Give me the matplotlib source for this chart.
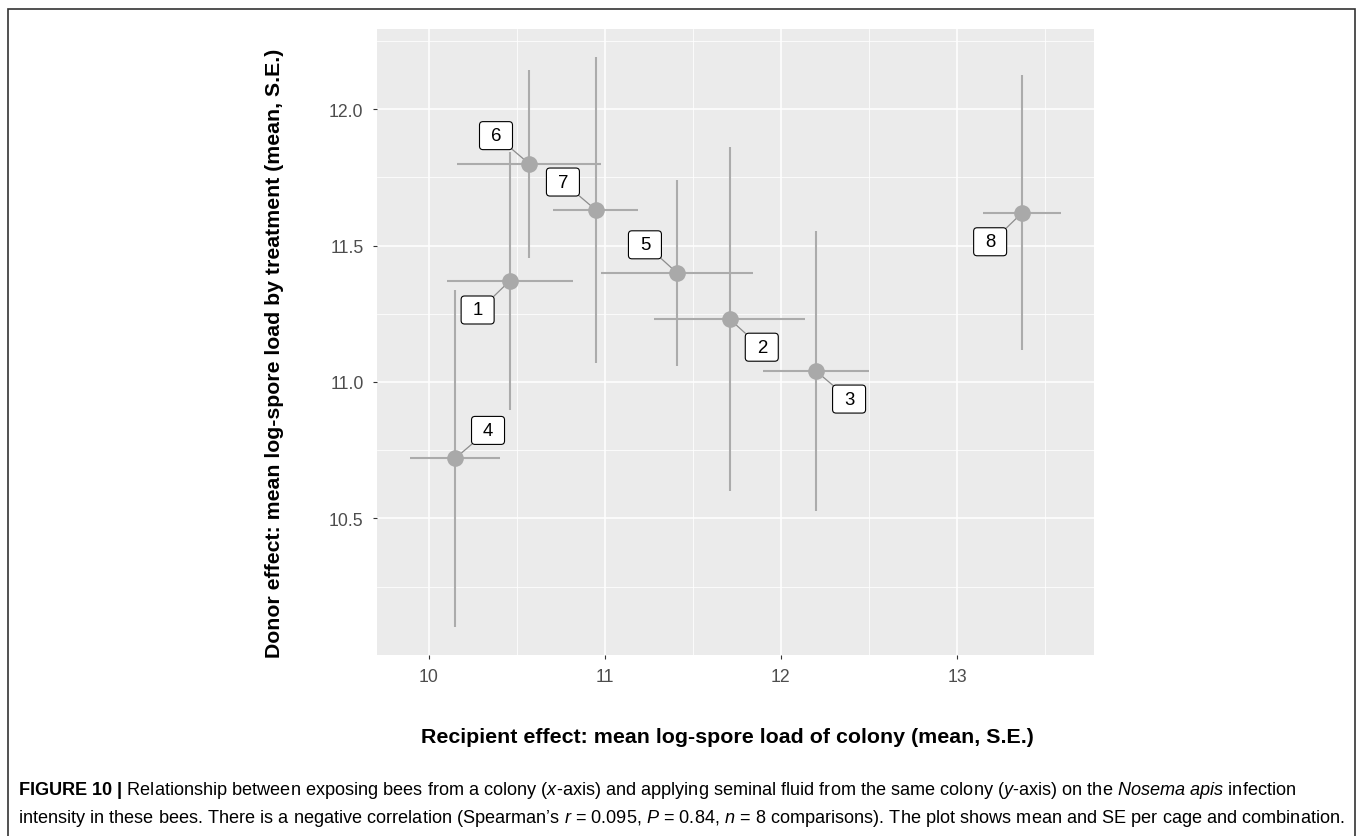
import matplotlib
matplotlib.use("Agg")
import matplotlib.pyplot as plt
from matplotlib import transforms
from matplotlib.patches import FancyBboxPatch, Rectangle
from matplotlib.lines import Line2D

plt.rcParams['font.family'] = ['Liberation Sans', 'DejaVu Sans']
plt.rcParams['mathtext.fontset'] = 'custom'
plt.rcParams['mathtext.rm'] = 'Liberation Sans'
plt.rcParams['mathtext.it'] = 'Liberation Sans:italic'
plt.rcParams['mathtext.bf'] = 'Liberation Sans:bold'

# colony / cage labels and their means with SE
labels = ['1', '2', '3', '4', '5', '6', '7', '8']
x_mean = [10.46, 11.71, 12.20, 10.15, 11.41, 10.57, 10.95, 13.37]
x_se = [0.357, 0.429, 0.303, 0.258, 0.433, 0.408, 0.241, 0.223]
y_mean = [11.37, 11.23, 11.04, 10.72, 11.40, 11.80, 11.63, 11.62]
y_se = [0.471, 0.631, 0.513, 0.616, 0.340, 0.344, 0.559, 0.503]

# where each label box sits relative to its point (pixels, right/up positive)
label_offsets = [(-32, -29), (32, -28), (33, -28), (33, 28),
                 (-32, 28), (-33, 28), (-33, 28), (-32, -29)]

W, H = 1360, 837
fig = plt.figure(figsize=(W / 100, H / 100), dpi=100)
ax = fig.add_axes([377 / W, 1 - 656 / H, (1094 - 377) / W, (656 - 30) / H])

# ggplot-like 5% expansion of the data range
def expanded(mean, se):
    lo = min(m - s for m, s in zip(mean, se))
    hi = max(m + s for m, s in zip(mean, se))
    pad = 0.05 * (hi - lo)
    return lo - pad, hi + pad

ax.set_xlim(*expanded(x_mean, x_se))
ax.set_ylim(*expanded(y_mean, y_se))

ax.set_facecolor('#EBEBEB')
for s in ax.spines.values():
    s.set_visible(False)
ax.set_xticks([10, 11, 12, 13])
ax.set_xticks([10.5, 11.5, 12.5, 13.5], minor=True)
ax.set_yticks([10.5, 11.0, 11.5, 12.0])
ax.set_yticklabels(['10.5', '11.0', '11.5', '12.0'])
ax.set_yticks([10.25, 10.75, 11.25, 11.75, 12.25], minor=True)
ax.grid(which='major', color='white', lw=1.1)
ax.grid(which='minor', color='white', lw=0.55)
ax.set_axisbelow(True)
ax.tick_params(which='major', length=3.2, width=0.8, color='#333333',
               labelcolor='#4D4D4D', labelsize=12.7, pad=6.5)
ax.tick_params(which='minor', length=0)

ax.errorbar(x_mean, y_mean, xerr=x_se, yerr=y_se, fmt='none',
            ecolor='#ABABAB', elinewidth=1.5, capsize=0, zorder=2)
ax.plot(x_mean, y_mean, 'o', color='#A9A9A9', ms=12, mec='none', zorder=3)

# label boxes with connector segments
bw, bh = 0.33, 0.28
for lab, xm, ym, (dx, dy) in zip(labels, x_mean, y_mean, label_offsets):
    trans = fig.dpi_scale_trans + transforms.ScaledTranslation(xm, ym, ax.transData)
    cx, cy = dx / 100, dy / 100
    sx = 1 if dx > 0 else -1
    sy = 1 if dy > 0 else -1
    corner = (cx - sx * bw / 2, cy - sy * bh / 2)
    ax.add_line(Line2D([0, corner[0]], [0, corner[1]], color='#8C8C8C',
                       lw=0.9, transform=trans, zorder=2.5))
    ax.add_patch(FancyBboxPatch((cx - bw / 2, cy - bh / 2), bw, bh,
                                boxstyle='round,pad=0,rounding_size=0.035',
                                fc='white', ec='black', lw=0.8,
                                transform=trans, zorder=4, clip_on=False))
    ax.text(cx, cy, lab, transform=trans, ha='center', va='center',
            fontsize=13.4, color='black', zorder=5)

fig.text(275 / W, 1 - 353 / H,
         'Donor effect: mean log-spore load by treatment (mean, S.E.)',
         rotation=90, ha='center', va='center', fontsize=15.3, weight='bold')
fig.text(727 / W, 1 - 738 / H,
         'Recipient effect: mean log-spore load of colony (mean, S.E.)',
         ha='center', va='center', fontsize=15.4, weight='bold')

cap1 = (r'$\mathbf{FIGURE\ 10\ |}$ Relationship between exposing bees from a colony '
        r'($\mathit{x}$-axis) and applying seminal fluid from the same colony '
        r'($\mathit{y}$-axis) on the $\mathit{Nosema}$ $\mathit{apis}$ infection')
cap2 = (r'intensity in these bees. There is a negative correlation (Spearman’s '
        r'$\mathit{r}$ = 0.095, $\mathit{P}$ = 0.84, $\mathit{n}$ = 8 comparisons). '
        r'The plot shows mean and SE per cage and combination.')
fig.text(18 / W, 1 - 791 / H, cap1, ha='left', va='center', fontsize=13.1)
fig.text(18 / W, 1 - 819 / H, cap2, ha='left', va='center', fontsize=13.1)

fig.patches.append(Rectangle((8 / W, -0.05), (1355 - 8) / W, 1.05 - 10 / H,
                             transform=fig.transFigure, fill=False,
                             ec='#333333', lw=1.2))

fig.savefig('out.png', dpi=100)
